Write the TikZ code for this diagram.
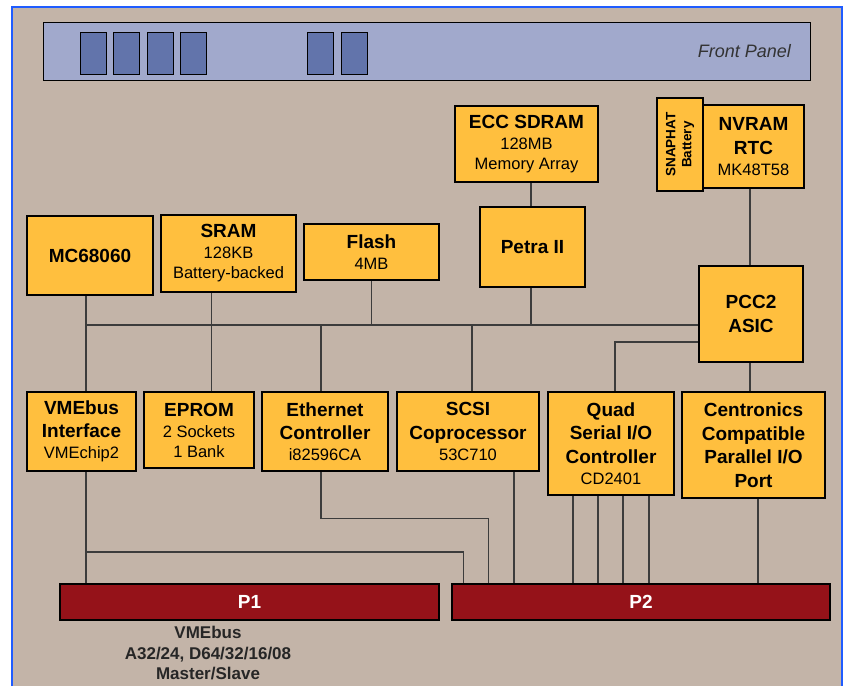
\documentclass[tikz,border=0pt]{standalone}
\usepackage{fontspec}
\setmainfont{Liberation Sans}
\usepackage{xcolor}
\usepackage{tikz}
\usetikzlibrary{positioning,calc}
\definecolor{boardbg}{HTML}{C3B4A8}
\definecolor{chipfill}{HTML}{FFBF3E}
\definecolor{panelfill}{HTML}{A1A9CC}
\definecolor{ledfill}{HTML}{6274AB}
\definecolor{connred}{HTML}{951219}
\definecolor{frameblue}{HTML}{1F5CFF}
\definecolor{wiregray}{HTML}{3C3C3C}
\newcommand{\ttl}{\fontsize{19}{23.5}\selectfont\bfseries}
\tikzset{
  chip/.style={draw=black, line width=1.6pt, fill=chipfill, inner sep=0pt, align=center,
    font=\fontsize{16.5}{20}\selectfont},
  conn/.style={draw=black, line width=1.6pt, fill=connred, text=white, inner sep=0pt,
    font=\fontsize{19}{23}\selectfont\bfseries},
  wire/.style={draw=wiregray, line width=1.2pt}
}

\begin{document}
\begin{tikzpicture}[x=1pt, y=-1pt]
  \useasboundingbox[fill=white] (0,0) rectangle (846,686);

  % Board and frame
  \fill[boardbg] (12,7) rectangle (842,686);
  \draw[frameblue, line width=2pt] (12,686) -- (12,7) -- (842,7) -- (842,686);

  % Front panel with indicators
  \node[draw=black, line width=1pt, fill=panelfill, minimum width=767, minimum height=58, inner sep=0pt] (fp) at (426.5,51) {};
  \node[anchor=east, font=\fontsize{18}{20}\selectfont\itshape, text=black!80] (fplabel) at ([xshift=-16]fp.east) {Front Panel};
  \foreach \x in {80,113.5,147,180.5,307.5,341} {
    \draw[black, line width=1pt, fill=ledfill] (\x,32) rectangle (\x+26,74);
  }

  % Memory and RTC
  \node[chip, minimum width=143, minimum height=76] (ecc) at (526.5,144) {{\ttl ECC SDRAM}\\[1pt]128MB\\Memory Array};
  \node[chip, minimum width=93, minimum height=46, rotate=90, font=\fontsize{13.5}{16}\selectfont\bfseries] (snap) at (680,144.5) {SNAPHAT\\Battery};
  \node[chip, minimum width=101, minimum height=83] (nvram) at (753.5,146.5) {{\ttl NVRAM}\\[3.5pt]{\ttl RTC}\\[1pt]MK48T58};

  % Processor row
  \node[chip, minimum width=126, minimum height=79] (mc) at (90,255.5) {{\ttl MC68060}};
  \node[chip, minimum width=135, minimum height=77] (sram) at (228.5,253.5) {{\ttl SRAM}\\[1pt]128KB\\Battery-backed};
  \node[chip, minimum width=135, minimum height=56] (flash) at (371.5,252) {{\ttl Flash}\\[1pt]4MB};
  \node[chip, minimum width=105, minimum height=80] (petra) at (532.5,247) {{\ttl Petra II}};
  \node[chip, minimum width=104, minimum height=96] (pcc) at (751,314) {{\ttl PCC2}\\[3.5pt]{\ttl ASIC}};

  % Peripheral row
  \node[chip, minimum width=109, minimum height=79] (vmeif) at (81.5,431.5) {{\ttl VMEbus}\\[3.5pt]{\ttl Interface}\\[1pt]VMEchip2};
  \node[chip, minimum width=110, minimum height=76] (eprom) at (199,430) {{\ttl EPROM}\\[1pt]2 Sockets\\1 Bank};
  \node[chip, minimum width=126, minimum height=79] (eth) at (325,431.5) {{\ttl Ethernet}\\[3.5pt]{\ttl Controller}\\[1pt]i82596CA};
  \node[chip, minimum width=142, minimum height=79] (scsi) at (468,431.5) {{\ttl SCSI}\\[3.5pt]{\ttl Coprocessor}\\[1pt]53C710};
  \node[chip, minimum width=126, minimum height=103] (quad) at (611,443.5) {{\ttl Quad}\\[3.5pt]{\ttl Serial I/O}\\[3.5pt]{\ttl Controller}\\[1pt]CD2401};
  \node[chip, minimum width=143, minimum height=106] (cent) at (753.5,445) {{\ttl Centronics}\\[3.5pt]{\ttl Compatible}\\[3.5pt]{\ttl Parallel I/O}\\[3.5pt]{\ttl Port}};

  % Backplane connectors
  \node[conn, minimum width=379, minimum height=36] (p1) at (249.5,602) {P1};
  \node[conn, minimum width=378, minimum height=36] (p2) at (641,602) {P2};
  \node[align=center, font=\fontsize{17}{20}\selectfont\bfseries, text=black!85] (vmelabel) at (208,653) {VMEbus\\A32/24, D64/32/16/08\\Master/Slave};

  % Local bus
  \coordinate (busw) at (86,325);
  \coordinate (vjoin) at (86,552);
  \draw[wire] (busw) -- (busw -| pcc.west);
  \draw[wire] (ecc.south -| 531,0) -- (petra.north -| 531,0);
  \draw[wire] (petra.south -| 531,0) -- (busw -| 531,0);
  \draw[wire] (nvram.south -| 750,0) -- (pcc.north -| 750,0);
  \draw[wire] (mc.south -| busw) -- (vmeif.north -| busw);
  \draw[wire] ([xshift=-17]sram.south) -- ([xshift=-17]eprom.north -| sram.south);
  \draw[wire] (flash.south) -- (flash.south |- busw);
  \draw[wire] ([xshift=-4]eth.north |- busw) -- ([xshift=-4]eth.north);
  \draw[wire] ([xshift=4]scsi.north |- busw) -- ([xshift=4]scsi.north);
  \draw[wire] ([yshift=-28]pcc.west) -| ([xshift=4]quad.north);
  \draw[wire] (pcc.south -| 750,0) -- (cent.north -| 750,0);

  % Lines to P1 and P2
  \draw[wire] (vmeif.south -| busw) -- (p1.north -| busw);
  \draw[wire] (vjoin) -| ([xshift=12]p2.north west);
  \draw[wire] ([xshift=-4]eth.south) -- ++(0,47) -| ([xshift=37]p2.north west);
  \draw[wire] ([xshift=46]scsi.south) -- ([xshift=46]scsi.south |- p2.north);
  \foreach \dx in {-38,-13,12,38} {
    \draw[wire] ([xshift=\dx]quad.south) -- ([xshift=\dx]quad.south |- p2.north);
  }
  \draw[wire] ([xshift=4.5]cent.south) -- ([xshift=4.5]cent.south |- p2.north);
\end{tikzpicture}
\end{document}
